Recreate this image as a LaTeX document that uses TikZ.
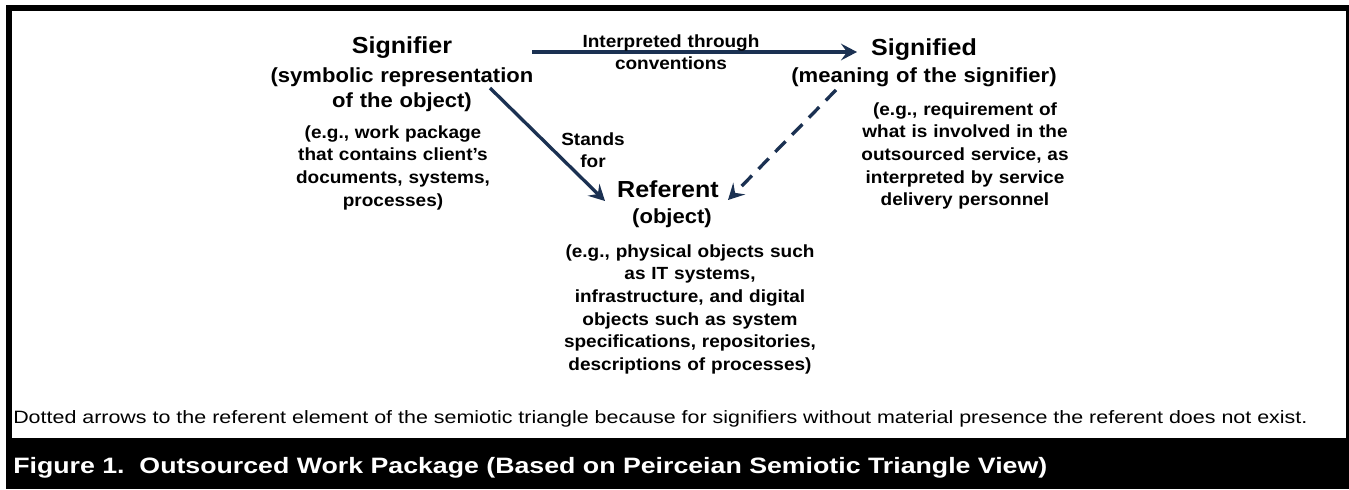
\documentclass[tikz,border=0pt]{standalone}
\usepackage{fontspec}
\setmainfont{Liberation Sans}[FakeStretch=1.08]
\newfontfamily\widefont{Liberation Sans}[FakeStretch=1.2]
\usetikzlibrary{arrows.meta}
\definecolor{navy}{HTML}{1B3152}
\begin{document}
\begin{tikzpicture}[x=0.75pt,y=-0.75pt,
  title/.style={font=\bfseries\fontsize{17.4pt}{20pt}\selectfont, inner sep=0pt, anchor=base},
  subtxt/.style={font=\bfseries\fontsize{15.3pt}{18.75pt}\selectfont, inner sep=0pt, anchor=base, text width=330pt, align=center},
  smalltxt/.style={font=\bfseries\fontsize{13.2pt}{17pt}\selectfont, inner sep=0pt, anchor=base, text width=300pt, align=center},
  lbl/.style={font=\bfseries\fontsize{13.2pt}{17pt}\selectfont, inner sep=0pt, anchor=base, text width=200pt, align=center},
  conn/.style={line width=2.5pt, draw=navy, -{Stealth[length=12pt,width=12.5pt,inset=4.5pt]}},
  dconn/.style={conn, dash pattern=on 11pt off 7pt},
]
\useasboundingbox (0,0) rectangle (1349,489);
% frame and caption bar
\fill[black] (6,438) rectangle (1352,489);
\draw[line width=4.5pt] (9,8) rectangle (1349,460);

% Signifier
\node[title] (sigr) at (402,53) {Signifier};
\node[subtxt] (sigrsub) at (402,82) {(symbolic representation\\of the object)};
\node[smalltxt] (sigrex) at (393,138) {(e.g., work package\\that contains client’s\\documents, systems,\\processes)};

% Signified
\node[title] (sigd) at (924,55) {Signified};
\node[subtxt] (sigdsub) at (924,82) {(meaning of the signifier)};
\node[smalltxt] (sigdex) at (965,115) {(e.g., requirement of\\what is involved in the\\outsourced service, as\\interpreted by service\\delivery personnel};

% Referent
\node[title] (ref) at (668,197) {Referent};
\node[subtxt] (refsub) at (672,223) {(object)};
\node[smalltxt] (refex) at (690,257) {(e.g., physical objects such\\as IT systems,\\infrastructure, and digital\\objects such as system\\specifications, repositories,\\descriptions of processes)};

% connectors
\coordinate (h1) at (532,52);
\coordinate (h2) at (857,52);
\coordinate (s1) at (490,88);
\coordinate (s2) at (605,201);
\coordinate (d1) at (836,90);
\coordinate (d2) at (728,200);
\draw[conn] (h1) -- (h2);
\draw[conn] (s1) -- (s2);
\draw[dconn] (d1) -- (d2);

\node[lbl] (interp) at (671,47) {Interpreted through\\conventions};
\node[lbl] (stands) at (593,145) {Stands\\for};

% footnote and caption
\node[font=\widefont\fontsize{13.4pt}{16pt}\selectfont, inner sep=0pt, anchor=base west] (note) at (13,423) {Dotted arrows to the referent element of the semiotic triangle because for signifiers without material presence the referent does not exist.};
\node[font=\widefont\bfseries\fontsize{16.7pt}{20pt}\selectfont, text=white, inner sep=0pt, anchor=base west] (cap) at (13,473) {Figure 1.\ \ Outsourced Work Package (Based on Peirceian Semiotic Triangle View)};
\end{tikzpicture}
\end{document}
